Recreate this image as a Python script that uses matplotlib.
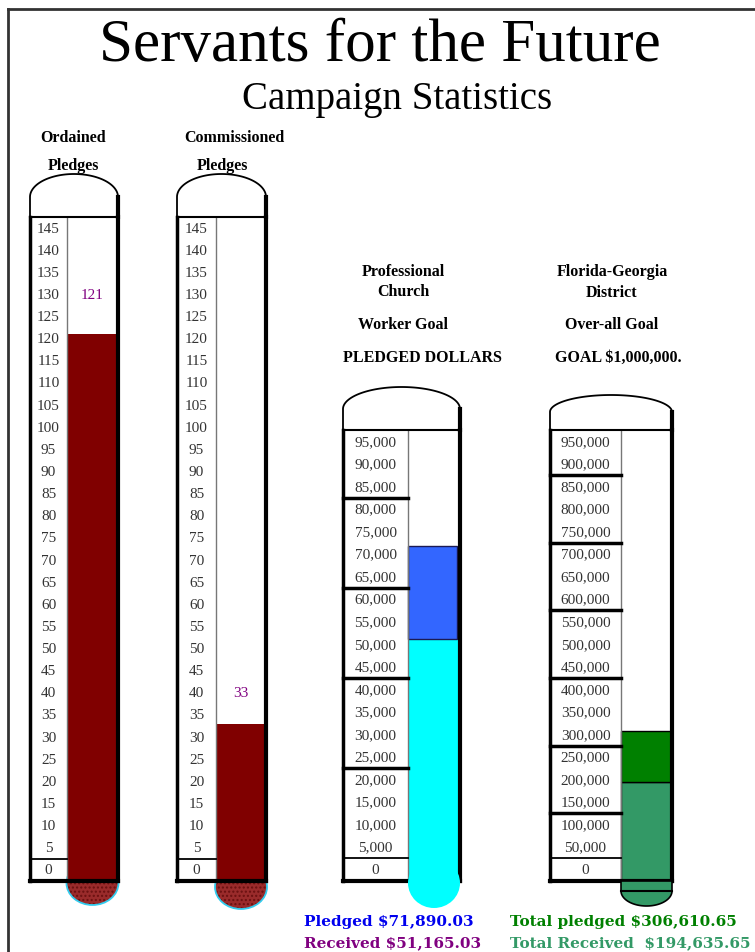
import numpy as np
import matplotlib
matplotlib.use("Agg")
import matplotlib.pyplot as plt
from matplotlib.patches import Ellipse, Polygon

# --- data ---
pledge_ticks = [0, 5, 10, 15, 20, 25, 30, 35, 40, 45, 50, 55, 60, 65, 70,
                75, 80, 85, 90, 95, 100, 105, 110, 115, 120, 125, 130, 135, 140, 145]
prof_ticks = [0, 5000, 10000, 15000, 20000, 25000, 30000, 35000, 40000, 45000,
              50000, 55000, 60000, 65000, 70000, 75000, 80000, 85000, 90000, 95000]
dist_ticks = [0, 50000, 100000, 150000, 200000, 250000, 300000, 350000, 400000, 450000,
              500000, 550000, 600000, 650000, 700000, 750000, 800000, 850000, 900000, 950000]
pledge_groups = [2.5]
prof_groups = [2500, 22500, 42500, 62500, 82500]
dist_groups = [25000, 125000, 275000, 425000, 575000, 725000, 875000]

ordained_pledges = 121
commissioned_pledges = 33
prof_pledged = 71890.03
prof_received = 51165.03
dist_pledged = 306610.65
dist_received = 194635.65

W, H = 755, 953
fig = plt.figure(figsize=(W / 100, H / 100), dpi=100)
bg = fig.add_axes([0, 0, 1, 1])
bg.set_xlim(0, W)
bg.set_ylim(H, 0)
bg.axis("off")

SERIF = "Liberation Serif"
BOLD = dict(family=SERIF, weight="bold", fontsize=11.5, ha="center", va="center")

# page frame
bg.plot([8, W], [10, 10], color="#333333", lw=2)
bg.plot([8, 8], [10, H], color="#333333", lw=2)

bg.text(380, 46, "Servants for the Future", family=SERIF, fontsize=44,
        ha="center", va="center")
bg.text(397, 99, "Campaign Statistics", family=SERIF, fontsize=28,
        ha="center", va="center")


def thermo(x0, xs, x1, top, bottom, ticks, groups, side_top, peak, fmt):
    step = ticks[1] - ticks[0]
    lo, hi = ticks[0] - step / 2, ticks[-1] + step / 2
    ax = fig.add_axes([x0 / W, 1 - bottom / H, (x1 - x0) / W, (bottom - top) / H])
    ax.set_xlim(x0, x1)
    ax.set_ylim(lo, hi)
    ax.axis("off")
    ax.patch.set_alpha(0)

    # cap on top
    t = np.linspace(0, np.pi, 80)
    cx, rx = (x0 + x1) / 2, (x1 - x0) / 2
    px = np.concatenate([[x0], cx - rx * np.cos(t), [x1]])
    py = np.concatenate([[top], side_top - (side_top - peak) * np.sin(t), [side_top]])
    bg.plot(px, py, color="black", lw=1.3)
    bg.plot([x1, x1], [side_top, top], color="black", lw=3)

    for v in ticks:
        ax.text((x0 + xs) / 2, v, fmt(v), family=SERIF, fontsize=11,
                color="#333333", ha="center", va="center")
    for g in groups:
        ax.plot([x0, xs], [g, g], color="black", lw=2.5 if g != groups[0] else 1.3,
                clip_on=False, zorder=4)
    ax.plot([xs, xs], [lo, hi], color="#777777", lw=1, clip_on=False, zorder=2)
    ax.plot([x0, x1], [hi, hi], color="black", lw=1.5, clip_on=False, zorder=4)
    ax.plot([x0, x0], [lo, hi], color="black", lw=2.5, clip_on=False, zorder=4)
    ax.plot([x1, x1], [lo, hi], color="black", lw=3, clip_on=False, zorder=4)
    ax.plot([x0, x1], [lo, lo], color="black", lw=3, clip_on=False, zorder=4)
    return ax, lo, (xs + x1) / 2, x1 - xs


def plain(v):
    return f"{v:g}"


def money(v):
    return f"{v:,.0f}"


# bulbs that sit behind the tubes
for cx, cy in [(92.5, 884), (241, 888)]:
    bg.add_patch(Ellipse((cx, cy), 52, 44, facecolor="#9a2b2b", hatch="....",
                         edgecolor="#6a1010", lw=0))
    bg.add_patch(Ellipse((cx, cy), 52, 44, fill=False, edgecolor="#33ccee", lw=1.3))

# Ordained
ax1, lo1, fc1, fw1 = thermo(30, 67, 118, 218, 882, pledge_ticks, pledge_groups,
                            198, 175, plain)
ax1.bar(fc1, ordained_pledges - lo1, bottom=lo1, width=fw1, color="#800000", zorder=1)
ax1.text(fc1, 130, str(ordained_pledges), family=SERIF, fontsize=11,
         color="#800080", ha="center", va="center")
bg.text(73, 138, "Ordained", **BOLD)
bg.text(73, 166, "Pledges", **BOLD)

# Commissioned
ax2, lo2, fc2, fw2 = thermo(177, 216, 266, 218, 882, pledge_ticks, pledge_groups,
                            198, 175, plain)
ax2.bar(fc2, commissioned_pledges - lo2, bottom=lo2, width=fw2, color="#800000", zorder=1)
ax2.text(fc2, 40, str(commissioned_pledges), family=SERIF, fontsize=11,
         color="#800080", ha="center", va="center")
bg.text(234, 138, "Commissioned", **BOLD)
bg.text(222, 166, "Pledges", **BOLD)

# Professional church worker
ax3, lo3, fc3, fw3 = thermo(343, 408, 460, 431, 882, prof_ticks, prof_groups,
                            410, 388, money)
ax3.bar(fc3, prof_received - lo3, bottom=lo3, width=fw3, color="#00ffff", zorder=1)
ax3.bar(fc3 - 1.5, prof_pledged - prof_received, bottom=prof_received, width=fw3 - 3,
        color="#3366ff", edgecolor="#1a1a55", lw=1, zorder=1.5)
for y, s in [(272, "Professional"), (292, "Church"), (325, "Worker Goal"),
             (358, "PLEDGED DOLLARS")]:
    bg.text(403 if y < 350 else 422, y, s, **BOLD)

# District
ax4, lo4, fc4, fw4 = thermo(550, 621, 672, 431, 882, dist_ticks, dist_groups,
                            413, 396, money)
ax4.bar(fc4, dist_received - lo4, bottom=lo4, width=fw4, color="#339966",
        edgecolor="black", lw=1, zorder=1)
ax4.bar(fc4, dist_pledged - dist_received, bottom=dist_received, width=fw4,
        color="#008000", edgecolor="black", lw=1, zorder=1)
for y, s in [(272, "Florida-Georgia"), (293, "District"), (325, "Over-all Goal"),
             (358, "GOAL $1,000,000.")]:
    bg.text(612 if y < 350 else 618, y, s, **BOLD)

# bulbs drawn over the tubes
fg = fig.add_axes([0, 0, 1, 1])
fg.set_xlim(0, W)
fg.set_ylim(H, 0)
fg.axis("off")
fg.patch.set_alpha(0)
fg.add_patch(Ellipse((434, 884), 52, 50, facecolor="#00ffff", lw=0))
t = np.linspace(0, np.pi, 60)
bx = np.concatenate([[621], 646.5 - 25.5 * np.cos(t), [672]])
by = np.concatenate([[882], 892 + 15 * np.sin(t), [882]])
fg.add_patch(Polygon(np.column_stack([bx, by]), closed=True, facecolor="#339966",
                     edgecolor="black", lw=1.2))
fg.plot([621, 672], [892, 892], color="black", lw=1.5)

BT = dict(family="DejaVu Serif", weight="bold", fontsize=11, ha="left", va="center")
fg.text(304, 922, "Pledged $71,890.03", color="#0000ee", **BT)
fg.text(304, 943, "Received $51,165.03", color="#800080", **BT)
fg.text(510, 922, "Total pledged $306,610.65", color="#008000", **BT)
fg.text(510, 943, "Total Received  $194,635.65", color="#339966", **BT)

fig.savefig("out.png", dpi=100, facecolor="white")
